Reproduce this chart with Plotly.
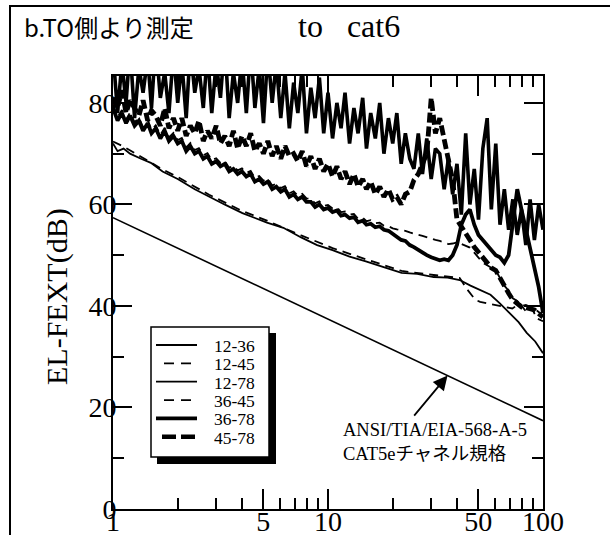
import plotly.graph_objects as go

# Sweep frequencies (MHz) shared by the noisy pair measurements
FREQ = [1.00, 1.05, 1.10, 1.15, 1.20, 1.26, 1.32, 1.38, 1.45, 1.51,
        1.58, 1.66, 1.74, 1.82, 1.91, 2.00, 2.09, 2.19, 2.29, 2.40,
        2.51, 2.63, 2.75, 2.88, 3.02, 3.16, 3.31, 3.47, 3.63, 3.80,
        3.98, 4.17, 4.37, 4.57, 4.79, 5.01, 5.25, 5.50, 5.75, 6.03,
        6.31, 6.61, 6.92, 7.24, 7.59, 7.94, 8.32, 8.71, 9.12, 9.55,
        10.0, 10.5, 11.0, 11.5, 12.0, 12.6, 13.2, 13.8, 14.5, 15.1,
        15.8, 16.6, 17.4, 18.2, 19.1, 20.0, 20.9, 21.9, 22.9, 24.0,
        25.1, 26.3, 27.5, 28.8, 30.2, 31.6, 33.1, 34.7, 36.3, 38.0,
        39.8, 41.7, 43.7, 45.7, 47.9, 50.1, 52.5, 55.0, 57.5, 60.3,
        63.1, 66.1, 69.2, 72.4, 75.9, 79.4, 83.2, 87.1, 91.2, 95.5,
        100.0]

# EL-FEXT (dB) per pair combination
PAIR_12_78 = [90, 78, 88, 80, 91, 77, 87, 82, 89, 79,
              92, 81, 86, 78, 90, 80, 88, 77, 91, 82,
              87, 79, 90, 78, 88, 81, 92, 77, 86, 80,
              89, 78, 91, 79, 87, 76, 90, 80, 88, 77,
              86, 75, 84, 78, 87, 74, 83, 77, 85, 74,
              82, 73, 80, 75, 82, 72, 79, 74, 81, 71,
              78, 73, 80, 70, 77, 72, 78, 68, 74, 69,
              67, 74, 66, 73, 65, 71, 70, 63, 69, 62,
              68, 58, 74, 60, 67, 57, 71, 77, 59, 72,
              56, 63, 55, 61, 54, 59, 52, 61, 53, 60,
              55]

PAIR_45_78 = [81, 79, 82.5, 78, 80.5, 79, 77.5, 80.5, 76.5, 78.5,
              77.5, 75.5, 79, 75, 77, 74.5, 77, 73.5, 75.5, 74,
              76.5, 72.5, 74.5, 73, 75.5, 72, 73.5, 71.5, 74.5, 71,
              73.5, 71.5, 74, 70.5, 72, 70, 72.5, 69.5, 71.5, 69,
              71.5, 69.5, 70, 68.5, 70.5, 67.5, 69.5, 67, 69, 66.5,
              68, 65.5, 67.5, 65, 66.5, 64, 66, 63.5, 65, 63,
              64.5, 62, 63.5, 61.5, 63, 61, 61.5, 60, 62, 62.5,
              64.8, 66, 68, 70, 81, 74, 77, 73, 69.4, 64.8,
              57, 55.5, 54, 53, 51.6, 50.5, 49.5, 48.5, 47.5, 47,
              45.5, 43.7, 42.5, 41.2, 40.5, 39.8, 39.7, 39.5, 39.2, 38.5,
              37.8]

PAIR_36_78 = [79, 76.5, 78, 76, 77.5, 75.5, 76.5, 74.5, 76, 74,
              75, 73, 74.5, 72.5, 73.5, 72, 72.5, 70.5, 71.5, 70,
              70.5, 69, 69.5, 68, 68.5, 67.5, 68, 66.5, 67, 66,
              66.5, 65.5, 66, 64.5, 65, 64, 64.5, 63, 63.5, 62.5,
              63, 61.5, 62, 61, 61.5, 60.5, 60.5, 59.5, 60, 59,
              59.3, 58.5, 58.8, 57.8, 58, 57.3, 57.5, 56.5, 56.8, 56,
              56.2, 55.5, 55.7, 55, 54.8, 54.2, 53.8, 53, 52.8, 52,
              51.6, 51, 50.6, 50, 49.6, 49.3, 49, 49.2, 49, 50,
              52, 56, 58, 59, 56, 54, 53, 52, 51, 50,
              49.6, 48.5, 50, 56, 63, 59, 55, 51.6, 47.5, 43.7,
              38.6]

PAIR_12_45 = [79.6, 77.2, 78.6, 76.7, 78.1, 76.2, 77.1, 75.2, 76.6, 74.7,
              75.6, 73.7, 75.1, 73.2, 74.1, 72.7, 73.1, 71.2, 72.1, 70.7,
              71.1, 69.7, 70.1, 68.7, 69.1, 68.2, 68.6, 67.2, 67.6, 66.7,
              67.1, 66.2, 66.6, 65.2, 65.6, 64.7, 65.1, 63.7, 64.1, 63.2,
              63.6, 62.2, 62.6, 61.7, 62.1, 61.2, 61.1, 60.2, 60.6, 59.7,
              59.9, 59.2, 59.4, 58.5, 58.6, 58, 58.1, 57.2, 57.4, 56.7,
              56.9, 56.3, 56.4, 55.8, 55.7, 55.3, 55.1, 55, 54.8, 54.5,
              54.2, 54, 53.8, 53.5, 53.3, 53, 52.8, 52.5, 52.2, 52.3,
              52.5, 52.2, 51.8, 51.5, 50.5, 49.5, 48.5, 48, 47.5, 47,
              45.5, 44, 43, 41.5, 41, 40, 40.2, 39.8, 39.5, 38.8,
              38]

FREQ_12_36 = [1, 1.05, 1.12, 1.2, 1.35, 1.5, 1.7, 2, 2.4, 2.8,
              3.3, 4, 4.5, 5.2, 6.2, 7.5, 8.9, 10.5, 12.6, 15,
              18, 22, 26, 31, 36, 41, 46, 51, 57, 63,
              70, 77, 84, 92, 100]
PAIR_12_36 = [72, 70.5, 71, 70, 69, 68.2, 66.5, 65, 63, 61.5,
              60, 58.3, 57.5, 56.4, 55.4, 53.5, 52, 51, 49.7, 48.8,
              47.7, 46.5, 46.3, 45.7, 45.6, 45.1, 44, 43.2, 42.2, 40.5,
              38.6, 36.8, 34.7, 33, 30.7]

FREQ_36_45 = [1, 1.12, 1.35, 1.7, 2, 2.8, 4, 5.2, 7.5, 10.5,
              15, 22, 31, 41, 44.5, 48.5, 51, 55, 60, 66,
              72, 78, 83, 88, 94, 100]
PAIR_36_45 = [72.4, 71.4, 69.4, 66.9, 65.4, 61.9, 58.7, 56.8, 53.9, 51.4,
              49.2, 46.9, 46.1, 45.5, 43.2, 41.2, 40.8, 40.5, 40.2, 39.8,
              39.5, 40.5, 39, 39.8, 37.5, 37]

# ANSI/TIA/EIA-568-A-5 CAT5e channel limit
SPEC_FREQ = [1, 100]
SPEC_DB = [57.4, 17.4]

X_TICKS = [1, 5, 10, 50, 100]
X_MINOR = [2, 3, 4, 6, 7, 8, 9, 20, 30, 40, 60, 70, 80, 90]
Y_TICKS = [0, 20, 40, 60, 80]
Y_MINOR = [10, 30, 50, 70]

LEGEND_NAMES = ["12-36", "12-45", "12-78", "36-45", "36-78", "45-78"]

SERIF = "Liberation Serif, Times New Roman, serif"
BLACK = "black"

fig = go.Figure()

fig.add_trace(go.Scatter(x=SPEC_FREQ, y=SPEC_DB, mode="lines",
                         line=dict(color=BLACK, width=1.6), showlegend=False,
                         hoverinfo="skip"))

# name, x, y, plotted width, dash
series = [
    ("12-36", FREQ_12_36, PAIR_12_36, 1.8, "solid"),
    ("36-45", FREQ_36_45, PAIR_36_45, 1.8, "9px,6px"),
    ("12-45", FREQ, PAIR_12_45, 1.8, "9px,6px"),
    ("36-78", FREQ, PAIR_36_78, 3.8, "solid"),
    ("45-78", FREQ, PAIR_45_78, 4.8, "10px,4px"),
    ("12-78", FREQ, PAIR_12_78, 3.6, "solid"),
]
for name, xs, ys, w, dash in series:
    fig.add_trace(go.Scatter(x=xs, y=ys, mode="lines", name=name,
                             showlegend=False,
                             line=dict(color=BLACK, width=w, dash=dash)))

axis_common = dict(
    showline=True, linewidth=2, linecolor=BLACK, mirror="ticks",
    ticks="inside", tickwidth=1.5, tickcolor=BLACK,
    showgrid=False, zeroline=False, automargin=False,
    tickfont=dict(family=SERIF, size=28, color=BLACK),
)

fig.update_xaxes(type="log", range=[0, 2], tickmode="array",
                 tickvals=X_TICKS, ticktext=[str(v) for v in X_TICKS],
                 ticklen=20, ticklabelstandoff=-14,
                 minor=dict(tickmode="array", tickvals=X_MINOR, ticks="inside",
                            ticklen=11, tickwidth=1.5, tickcolor=BLACK,
                            showgrid=False),
                 **axis_common)
fig.update_yaxes(range=[0, 85.3], tickmode="array",
                 tickvals=Y_TICKS, ticktext=[str(v) for v in Y_TICKS],
                 ticklen=19, ticklabelstandoff=-11,
                 minor=dict(tickmode="array", tickvals=Y_MINOR, ticks="inside",
                            ticklen=11, tickwidth=1.5, tickcolor=BLACK,
                            showgrid=False),
                 **axis_common)

# plot area in pixels: x 113..543, y 76..509
PL, PT, PW, PH = 113, 76, 430, 433


def px(xp):
    return (xp - PL) / PW


def py(yp):
    return (PT + PH - yp) / PH


shapes = [
    # outer frame
    dict(type="rect", xref="paper", yref="paper",
         x0=px(10), x1=px(640), y0=py(580), y1=py(6),
         line=dict(color=BLACK, width=2), layer="below"),
    # legend drop shadow and box
    dict(type="rect", xref="paper", yref="paper",
         x0=px(157), x1=px(276), y0=py(464), y1=py(333),
         fillcolor=BLACK, line=dict(width=0), layer="above"),
    dict(type="rect", xref="paper", yref="paper",
         x0=px(151), x1=px(269), y0=py(457), y1=py(327),
         fillcolor="white", line=dict(color=BLACK, width=1.5),
         layer="above"),
]

annotations = []

# legend samples: line style per pair
legend_style = {
    "12-36": (156, 1.8, "solid"),
    "12-45": (164, 1.8, "10px,7px"),
    "12-78": (156, 1.8, "solid"),
    "36-45": (164, 1.8, "10px,7px"),
    "36-78": (156, 3.8, "solid"),
    "45-78": (162, 4.5, "14px,5px"),
}
for i, name in enumerate(LEGEND_NAMES):
    yrow = 345 + 18.35 * i
    x0, w, dash = legend_style[name]
    shapes.append(dict(type="line", xref="paper", yref="paper",
                       x0=px(x0), x1=px(197), y0=py(yrow), y1=py(yrow),
                       line=dict(color=BLACK, width=w, dash=dash),
                       layer="above"))
    annotations.append(dict(text=name, xref="paper", yref="paper",
                            x=px(212), y=py(yrow + 1), xanchor="left",
                            yanchor="middle", showarrow=False,
                            font=dict(family=SERIF, size=17.5, color=BLACK)))

annotations += [
    dict(text="to\u00a0\u00a0\u00a0cat6", xref="paper", yref="paper",
         x=px(349), y=py(26), xanchor="center", yanchor="middle",
         showarrow=False, font=dict(family=SERIF, size=32, color=BLACK)),
    dict(text="b.TO側より測定", xref="paper", yref="paper",
         x=px(22), y=py(27), xanchor="left", yanchor="middle",
         showarrow=False,
         font=dict(family="Noto Sans CJK JP, Noto Sans", size=24,
                   color=BLACK)),
    dict(text="EL-FEXT(dB)", xref="paper", yref="paper",
         x=px(57), y=py(297), xanchor="center", yanchor="middle",
         textangle=-90, showarrow=False,
         font=dict(family=SERIF, size=30, color=BLACK)),
    dict(text="ANSI/TIA/EIA-568-A-5<br>CAT5eチャネル規格",
         xref="x", yref="y", x=1.062, y=13.2,
         xanchor="left", yanchor="middle", align="left",
         showarrow=False,
         font=dict(family=SERIF + ", Noto Sans CJK JP", size=18.5,
                   color=BLACK)),
    dict(text="", xref="x", yref="y", x=1.556, y=26.3,
         axref="x", ayref="y", ax=1.395, ay=18.1,
         showarrow=True, arrowhead=2, arrowsize=1.6, arrowwidth=1.8,
         arrowcolor=BLACK, standoff=0),
]

fig.update_layout(
    width=610, height=535, autosize=False,
    margin=dict(l=PL, r=610 - PL - PW, t=PT, b=535 - PT - PH, pad=0),
    paper_bgcolor="white", plot_bgcolor="white",
    showlegend=False,
    shapes=shapes,
    annotations=annotations,
)

fig.write_html("out.html")
